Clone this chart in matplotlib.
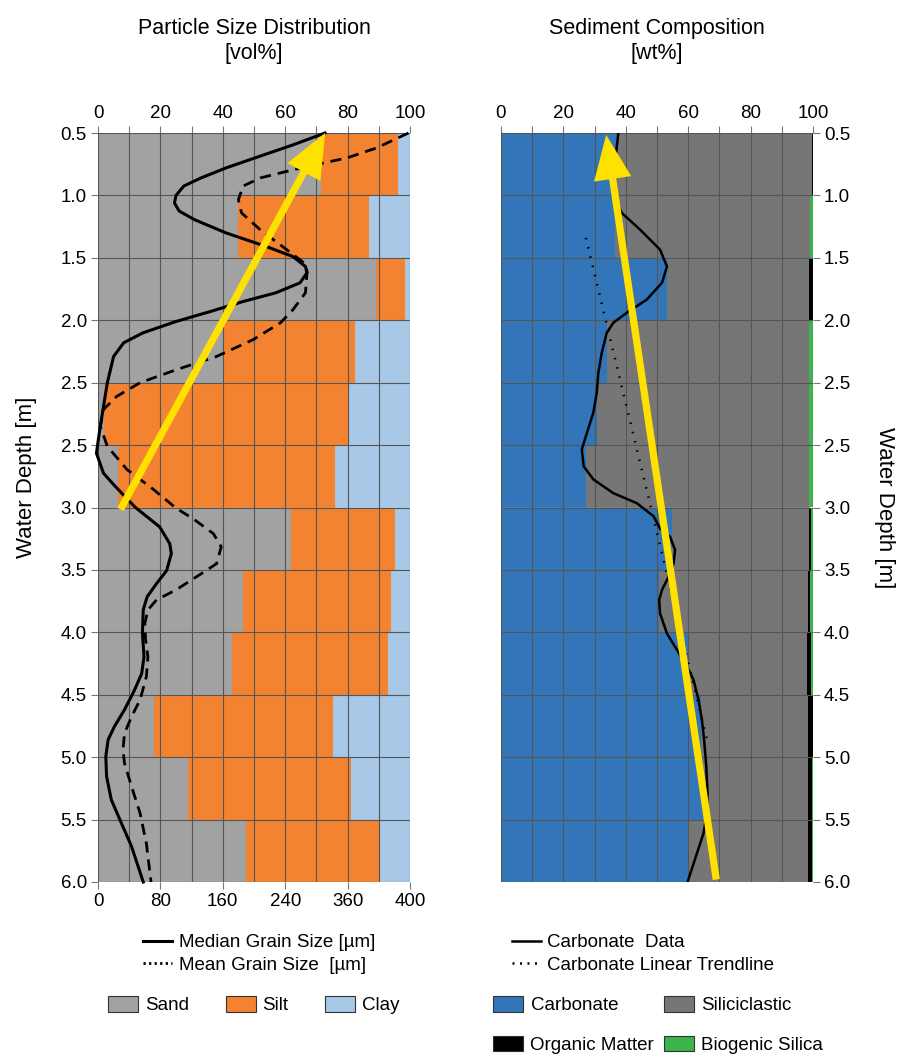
import matplotlib
matplotlib.use("Agg")
import matplotlib.pyplot as plt
from matplotlib.lines import Line2D
from matplotlib.patches import Patch

plt.rcParams["font.family"] = ["Liberation Sans", "DejaVu Sans"]

# depth tick labels (as printed on the original figure), one per row boundary
depth_labels = ["0.5", "1.0", "1.5", "2.0", "2.5", "2.5", "3.0",
                "3.5", "4.0", "4.5", "5.0", "5.5", "6.0"]

# particle size distribution per depth interval [vol%]
sand = [71.5, 45.0, 89.0, 40.2, 1.8, 6.3, 62.0, 46.6, 43.1, 17.9, 28.9, 47.4]
silt = [24.5, 42.0, 9.4, 42.1, 78.5, 69.8, 33.2, 47.3, 49.7, 57.5, 52.2, 43.0]
clay = [4.0, 13.0, 1.6, 17.7, 19.7, 23.9, 4.8, 6.1, 7.2, 24.6, 18.9, 9.6]

# grain size curves [um] against row position
median_pos = [0.00, 0.19, 0.37, 0.56, 0.72, 0.85, 1.00, 1.12, 1.25, 1.39,
              1.60, 1.82, 1.98, 2.14, 2.24, 2.40, 2.56, 2.70, 2.86, 3.02,
              3.20, 3.36, 3.58, 4.00, 4.54, 4.86, 5.13, 5.45, 5.66, 6.00,
              6.31, 6.58, 6.74, 7.01, 7.22, 7.43, 7.64, 8.02, 8.39, 8.66,
              8.92, 9.24, 9.51, 9.72, 9.99, 10.31, 10.68, 11.00, 11.43, 12.00]
median_um = [291, 250, 208, 164, 132, 110, 100, 98, 104, 124,
             164, 216, 250, 266, 268, 259, 228, 186, 144, 100,
             58, 33, 20, 12, 5, 1, -2, 7, 22, 48,
             79, 92, 94, 88, 75, 63, 58, 57, 59, 56,
             47, 34, 21, 13, 10, 11, 17, 28, 43, 58]

mean_pos = [0.00, 0.24, 0.40, 0.48, 0.59, 0.72, 0.85, 1.07, 1.28, 1.55,
            1.87, 2.08, 2.22, 2.56, 2.83, 3.04, 3.31, 3.58, 3.79, 4.00,
            4.22, 4.43, 4.70, 5.02, 5.39, 5.71, 6.01, 6.18, 6.42, 6.63,
            6.90, 7.08, 7.32, 7.48, 7.64, 7.86, 8.12, 8.39, 8.71, 9.08,
            9.35, 9.62, 9.88, 10.10, 10.47, 10.90, 11.38, 12.00]
mean_um = [398, 357, 319, 289, 250, 208, 186, 180, 184, 208,
           242, 264, 268, 266, 250, 234, 199, 152, 101, 54,
           24, 7, 3, 12, 37, 71, 100, 122, 148, 158,
           152, 130, 100, 75, 64, 60, 61, 64, 62, 54,
           43, 34, 32, 34, 43, 54, 62, 68]

# sediment composition per depth interval [wt%]
carbonate = [37.1, 36.6, 53.2, 33.9, 30.9, 27.2, 54.8, 50.8, 59.8, 64.1, 64.7, 60.0]
organic = [0.4, 0.0, 1.2, 0.0, 0.0, 0.0, 0.8, 0.6, 1.0, 1.5, 1.4, 1.2]
biosilica = [0.0, 1.1, 0.0, 1.2, 1.2, 1.4, 0.6, 1.0, 0.8, 0.0, 0.2, 0.4]
siliciclastic = [100 - c - o - b for c, o, b in zip(carbonate, organic, biosilica)]

carb_pos = [0.00, 0.32, 0.64, 1.01, 1.28, 1.55, 1.87, 2.14, 2.40, 2.67,
            2.88, 3.04, 3.20, 3.52, 3.84, 4.16, 4.48, 4.81, 5.07, 5.34,
            5.55, 5.77, 5.93, 6.14, 6.34, 6.47, 6.68, 6.90, 7.11, 7.32,
            7.48, 7.70, 8.02, 8.28, 8.55, 8.76, 9.08, 9.40, 9.72, 10.15,
            10.58, 10.90, 11.22, 11.54, 12.00]
carb_curve = [37.6, 36.9, 36.0, 36.0, 38.7, 44.6, 51.0, 53.2, 51.6, 46.7,
              40.3, 36.0, 33.9, 32.3, 31.2, 30.7, 29.6, 27.5, 25.9, 26.5,
              29.6, 36.0, 43.5, 48.9, 51.0, 54.2, 55.8, 55.3, 53.7, 51.6,
              50.7, 51.0, 53.2, 56.4, 59.6, 61.7, 63.3, 64.4, 65.1, 65.8,
              66.2, 66.0, 64.9, 62.8, 59.8]

trend_pos = [1.68, 9.72]
trend_val = [27.2, 66.0]

# yellow arrows (tail -> head) in axis units
arrow_left = ((7.2, 6.03), (72.8, 0.0))
arrow_right = ((69.0, 11.96), (33.7, 0.03))

C_SAND = "#a2a2a2"
C_SILT = "#f38331"
C_CLAY = "#a7c8e7"
C_CARB = "#3276b9"
C_SILI = "#767676"
C_ORG = "#000000"
C_BSI = "#3cb54a"
C_YEL = "#ffe100"
C_GRID = "#555555"
FS = 13.5


def style_axes(ax):
    ax.set_xlim(0, 100)
    ax.set_ylim(12, 0)
    ax.set_xticks(range(0, 101, 10))
    ax.set_xticklabels([str(v) if v % 20 == 0 else "" for v in range(0, 101, 10)])
    ax.set_yticks(range(13))
    ax.set_yticklabels(depth_labels)
    ax.xaxis.set_ticks_position("top")
    ax.xaxis.set_label_position("top")
    ax.tick_params(labelsize=FS, length=5, width=0.8, color="#777777", pad=3)
    ax.grid(True, color=C_GRID, lw=0.8)
    ax.set_axisbelow(False)
    for s in ax.spines.values():
        s.set_visible(False)


def add_arrow(ax, tail, head):
    ax.annotate("", xy=head, xytext=tail, zorder=6, annotation_clip=False,
                arrowprops=dict(arrowstyle="simple,head_length=1.6,head_width=1.35,tail_width=0.26",
                                mutation_scale=20, color=C_YEL, shrinkA=0, shrinkB=0, lw=0))


fig = plt.figure(figsize=(8.99, 10.55), dpi=100)
axl = fig.add_axes([98 / 899, 1 - 882 / 1055, 312 / 899, 749 / 1055])
axr = fig.add_axes([501 / 899, 1 - 882 / 1055, 312 / 899, 749 / 1055])

rows = [i + 0.5 for i in range(12)]

# left panel: stacked particle sizes
ax2 = axl.twiny()
axl.barh(rows, sand, height=1.0, color=C_SAND, ec=C_SAND, lw=0.6)
axl.barh(rows, silt, height=1.0, left=sand, color=C_SILT, ec=C_SILT, lw=0.6)
axl.barh(rows, clay, height=1.0, left=[a + b for a, b in zip(sand, silt)],
         color=C_CLAY, ec=C_CLAY, lw=0.6)
style_axes(axl)
axl.set_title("Particle Size Distribution\n[vol%]", fontsize=15.5, pad=53, linespacing=1.25)
axl.set_ylabel("Water Depth [m]", fontsize=16)
axl.yaxis.set_label_coords(-0.195, 0.54)

# bottom scale of the left panel: grain size in micrometres
ax2.set_xlim(0, 400)
ax2.xaxis.set_ticks_position("bottom")
ax2.xaxis.set_label_position("bottom")
ax2.set_xticks([0, 80, 160, 240, 320, 400])
ax2.set_xticklabels(["0", "80", "160", "240", "360", "400"])
ax2.tick_params(axis="x", labelsize=FS, length=5, width=0.8, color="#777777", pad=3)
for s in ax2.spines.values():
    s.set_visible(False)
ax2.plot(median_um, median_pos, color="black", lw=2.2, zorder=4, clip_on=False)
ax2.plot(mean_um, mean_pos, color="black", lw=2.0, ls=(0, (4, 2.5)), zorder=4, clip_on=False)
axl.set_ylim(12, 0)
add_arrow(ax2, (arrow_left[0][0] * 4, arrow_left[0][1]), (arrow_left[1][0] * 4, arrow_left[1][1]))

# right panel: sediment composition
left = [0.0] * 12
for vals, col in [(carbonate, C_CARB), (siliciclastic, C_SILI), (organic, C_ORG), (biosilica, C_BSI)]:
    axr.barh(rows, vals, height=1.0, left=left, color=col, ec=col, lw=0.6 if col in (C_CARB, C_SILI) else 0)
    left = [a + b for a, b in zip(left, vals)]
style_axes(axr)
axr.yaxis.set_ticks_position("right")
axr.yaxis.set_label_position("right")
axr.set_title("Sediment Composition\n[wt%]", fontsize=15.5, pad=53, linespacing=1.25)
axr.set_ylabel("Water Depth [m]", fontsize=16, rotation=-90, va="bottom")
axr.yaxis.set_label_coords(1.196, 0.50)
axr.plot(carb_curve, carb_pos, color="black", lw=1.8, zorder=4)
axr.plot(trend_val, trend_pos, color="black", lw=1.8, ls=(0, (0.6, 3.2)), zorder=4)
add_arrow(axr, *arrow_right)

# legends
leg_kw = dict(frameon=False, fontsize=FS, borderpad=0, borderaxespad=0, loc="upper left")
fig.legend([Line2D([], [], color="black", lw=2.2),
            Line2D([], [], color="black", lw=2.0, ls=(0, (0.8, 1.2)))],
           ["Median Grain Size [\u00b5m]", "Mean Grain Size  [\u00b5m]"],
           bbox_to_anchor=(143 / 899, 1 - 934 / 1055), handlelength=1.55,
           handletextpad=0.37, labelspacing=0.3, **leg_kw)
fig.legend([Patch(fc=C_SAND, ec="#333333", lw=0.8), Patch(fc=C_SILT, ec="#333333", lw=0.8),
            Patch(fc=C_CLAY, ec="#333333", lw=0.8)],
           ["Sand", "Silt", "Clay"], ncol=3,
           bbox_to_anchor=(108 / 899, 1 - 996 / 1055), handlelength=1.6, handleheight=0.9,
           handletextpad=0.37, columnspacing=1.95, **leg_kw)
fig.legend([Line2D([], [], color="black", lw=1.8),
            Line2D([], [], color="black", lw=1.8, ls=(0, (0.8, 2.2)))],
           ["Carbonate  Data", "Carbonate Linear Trendline"],
           bbox_to_anchor=(512 / 899, 1 - 934 / 1055), handlelength=1.55,
           handletextpad=0.3, labelspacing=0.3, **leg_kw)
fig.legend([Patch(fc=C_CARB, ec="#333333", lw=0.8), Patch(fc=C_ORG, ec="#333333", lw=0.8),
            Patch(fc=C_SILI, ec="#333333", lw=0.8), Patch(fc=C_BSI, ec="#333333", lw=0.8)],
           ["Carbonate", "Organic Matter", "Siliciclastic", "Biogenic Silica"], ncol=2,
           bbox_to_anchor=(493 / 899, 1 - 996 / 1055), handlelength=1.6, handleheight=0.9,
           handletextpad=0.4, columnspacing=0.5, labelspacing=1.15, **leg_kw)

fig.savefig("out.png", dpi=100)
